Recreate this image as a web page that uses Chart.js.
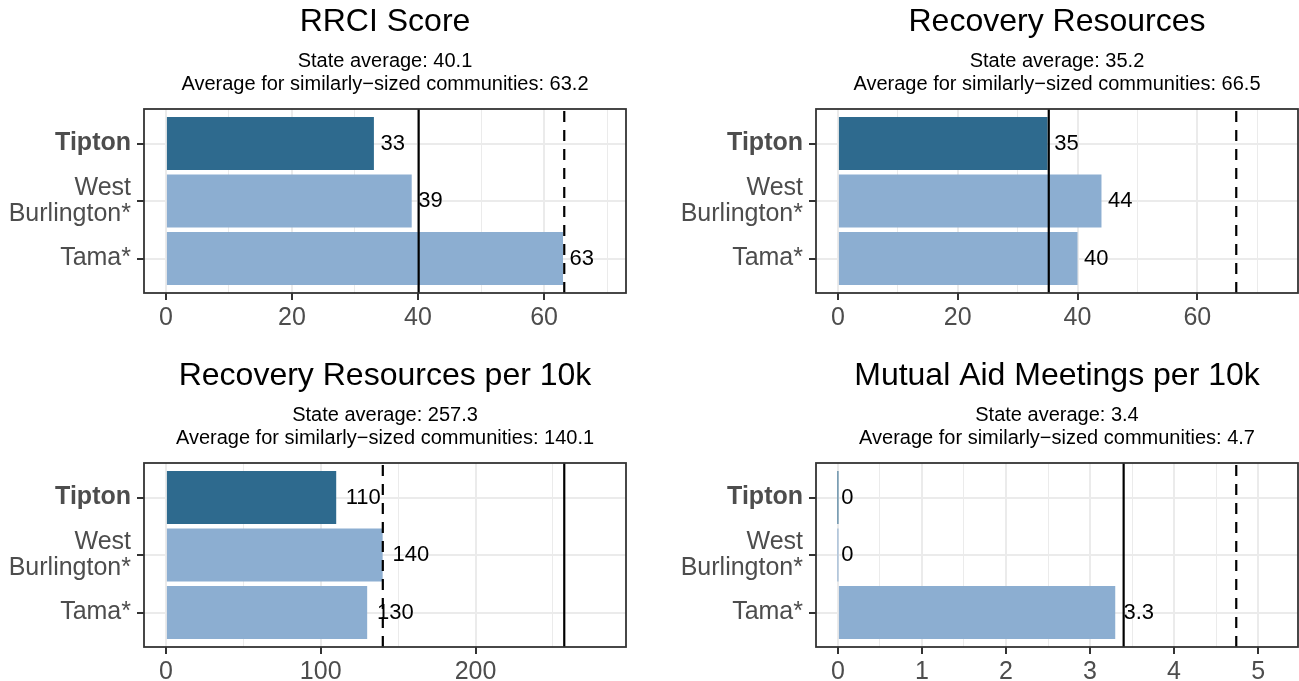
<!DOCTYPE html>
<html>
<head>
<meta charset="utf-8">
<script src="https://cdn.jsdelivr.net/npm/chart.js@4.4.1/dist/chart.umd.min.js"></script>
<style>
  body { margin: 0; width: 1299px; height: 681px; overflow: hidden; background: #fff; position: relative; }
  canvas { position: absolute; }
</style>
</head>
<body>
<canvas id="rrci" width="650" height="354" style="left:0;top:0"></canvas>
<canvas id="resources" width="650" height="354" style="left:672px;top:0"></canvas>
<canvas id="per10k" width="650" height="354" style="left:0;top:354px"></canvas>
<canvas id="meetings" width="650" height="354" style="left:672px;top:354px"></canvas>
<script>
// data
const communities = ['Tipton', ['West', 'Burlington*'], 'Tama*'];
const rrciScore = [33, 39, 63];
const recoveryResources = [35, 44, 40];
const resourcesPer10k = [110, 140, 130];
const meetingsPer10k = [0, 0, 3.3];
const stateAverage = [40.1, 35.2, 257.3, 3.4];
const similarAverage = [63.2, 66.5, 140.1, 4.74];
const titles = ['RRCI Score', 'Recovery Resources', 'Recovery Resources per 10k', 'Mutual Aid Meetings per 10k'];
const xSteps = [20, 20, 100, 1];

const FONT = '"Liberation Sans", Arial, Helvetica, sans-serif';
Chart.defaults.font.family = FONT;

// vertical reference lines, value labels and panel border
const panelDecor = {
  id: 'panelDecor',
  afterDatasetsDraw(chart, args, opts) {
    const { ctx, chartArea: a, scales: { x } } = chart;
    ctx.save();
    ctx.strokeStyle = '#000';
    ctx.lineWidth = 2.2;
    [[opts.state, []], [opts.similar, [11, 8]]].forEach(([v, dash]) => {
      const px = x.getPixelForValue(v);
      ctx.setLineDash(dash);
      ctx.beginPath();
      ctx.moveTo(px, a.bottom);
      ctx.lineTo(px, a.top);
      ctx.stroke();
    });
    ctx.setLineDash([]);

    ctx.font = '22px ' + FONT;
    ctx.fillStyle = '#000';
    ctx.textBaseline = 'middle';
    ctx.textAlign = 'left';
    const ds = chart.data.datasets[0];
    chart.getDatasetMeta(0).data.forEach((bar, i) => {
      const v = ds.data[i].x;
      const txt = String(Number(v.toPrecision(2)));
      const w = ctx.measureText(txt).width;
      ctx.fillText(txt, x.getPixelForValue(v) + 0.27 * w, bar.y);
    });

    ctx.strokeStyle = '#333333';
    ctx.lineWidth = 1.8;
    ctx.strokeRect(a.left, a.top, a.width, a.height);
    ctx.restore();
  }
};

function makePanel(id, k, values) {
  const top = Math.max(...values, stateAverage[k], similarAverage[k]) * 1.1;
  const step = xSteps[k];
  const isMajor = v => Math.abs(v / step - Math.round(v / step)) < 1e-6;
  new Chart(document.getElementById(id), {
    type: 'bar',
    data: {
      datasets: [{
        data: values.map((v, i) => ({ x: v, y: i + 1 })),
        backgroundColor: values.map((v, i) => i === 0 ? '#2E6A8E' : '#8CAED1'),
        borderWidth: 0,
        barPercentage: 0.92,
        categoryPercentage: 1,
        minBarLength: 1
      }]
    },
    options: {
      indexAxis: 'y',
      responsive: false,
      animation: false,
      layout: { padding: { left: 0, right: 24, top: 0, bottom: 0 } },
      plugins: {
        legend: { display: false },
        tooltip: { enabled: false },
        title: {
          display: true, text: titles[k], fullSize: false, color: '#000',
          font: { size: 32, weight: 'normal', lineHeight: 1.2 },
          padding: { top: 3.2, bottom: 0 }
        },
        subtitle: {
          display: true, fullSize: false, color: '#000',
          text: ['State average: ' + stateAverage[k].toFixed(1),
                 'Average for similarly\u2212sized communities: ' + similarAverage[k].toFixed(1)],
          font: { size: 20, lineHeight: 1.125 },
          padding: { top: 9, bottom: 13.4 }
        },
        panelDecor: { state: stateAverage[k], similar: similarAverage[k] }
      },
      scales: {
        x: {
          type: 'linear',
          min: -0.05 * top,
          max: 1.05 * top,
          afterBuildTicks: s => {
            const t = [];
            for (let v = 0; v <= s.max + 1e-9; v += step / 2) t.push({ value: +v.toFixed(6) });
            s.ticks = t;
          },
          afterFit: s => { s.height = 61; },
          border: { display: false },
          grid: {
            color: '#EBEBEB',
            lineWidth: c => isMajor(c.tick.value) ? 2 : 1,
            tickColor: c => isMajor(c.tick.value) ? '#333333' : 'rgba(0,0,0,0)',
            tickWidth: 2,
            tickLength: 7
          },
          ticks: {
            autoSkip: false, maxRotation: 0, padding: 3,
            color: '#4D4D4D', font: { size: 25 },
            callback: v => isMajor(v) ? String(Math.round(v)) : ''
          }
        },
        y: {
          type: 'linear',
          reverse: true,
          offset: false,
          min: 0.4,
          max: 3.6,
          afterBuildTicks: s => { s.ticks = [1, 2, 3].map(v => ({ value: v })); },
          afterFit: s => { s.width = 144; },
          border: { display: false },
          grid: { offset: false, color: '#EBEBEB', lineWidth: 2, tickColor: '#333333', tickWidth: 2, tickLength: 7 },
          ticks: {
            padding: 6,
            color: '#4D4D4D',
            font: c => ({ size: 25, lineHeight: 1.05, weight: c.tick && c.tick.value === 1 ? 'bold' : 'normal' }),
            callback: v => communities[v - 1]
          }
        }
      }
    },
    plugins: [panelDecor]
  });
}

makePanel('rrci', 0, rrciScore);
makePanel('resources', 1, recoveryResources);
makePanel('per10k', 2, resourcesPer10k);
makePanel('meetings', 3, meetingsPer10k);
</script>
</body>
</html>
